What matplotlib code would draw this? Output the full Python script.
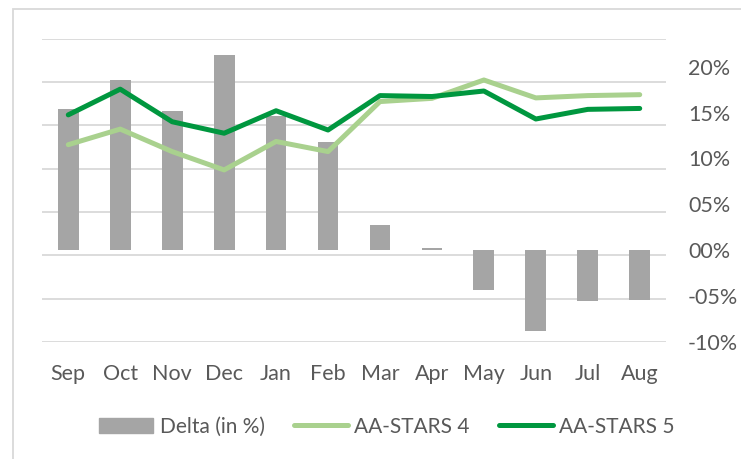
import matplotlib
matplotlib.use("Agg")
import matplotlib.pyplot as plt
from matplotlib.patches import Rectangle, Patch
from matplotlib.lines import Line2D
import numpy as np

plt.rcParams['font.family'] = ['Lato', 'DejaVu Sans']

months = ["Sep", "Oct", "Nov", "Dec", "Jan", "Feb", "Mar", "Apr", "May", "Jun", "Jul", "Aug"]
delta = [15.4, 18.55, 15.2, 21.3, 14.6, 11.8, 2.7, 0.25, -4.3, -8.8, -5.5, -5.4]
stars4 = [11.5, 13.2, 10.75, 8.75, 11.85, 10.75, 16.2, 16.55, 18.55, 16.6, 16.85, 16.95]
stars5 = [14.75, 17.55, 14.0, 12.75, 15.2, 13.1, 16.85, 16.75, 17.35, 14.3, 15.35, 15.45]
right_ticks = [-10, -5, 0, 5, 10, 15, 20]

txt = '#595959'
grid = '#D9D9D9'
fs = 15.5

fig = plt.figure(figsize=(7.41, 4.59), dpi=100)
W, H = 741, 459
ax = fig.add_axes([42.3 / W, 1 - 342 / H, (665.7 - 42.3) / W, (342 - 38.7) / H])
ax2 = ax.twinx()

# primary axis: only gridlines, labels hidden (as in the excel sheet)
ax.set_ylim(0, 35)
ax.set_yticks(np.arange(0, 36, 5))
ax.tick_params(axis='y', left=False, right=False, labelleft=False, labelright=False)
ax.grid(True, axis='y', color=grid, lw=1.3)
ax.set_axisbelow(True)
for s in ax.spines.values():
    s.set_visible(False)

x = np.arange(len(months))
ax.set_xlim(-0.5, len(months) - 0.5)
ax.set_xticks(x)
ax.set_xticklabels(months)
ax.tick_params(axis='x', length=0, pad=16, labelsize=fs, labelcolor=txt)

ax2.set_ylim(-10, 23.05)
bars = ax2.bar(x, delta, width=0.4, color='#A5A5A5', zorder=2)
l4, = ax2.plot(x, stars4, color='#A9D18E', lw=3.6, solid_capstyle='round', solid_joinstyle='round', zorder=3)
l5, = ax2.plot(x, stars5, color='#00973F', lw=3.6, solid_capstyle='round', solid_joinstyle='round', zorder=4)
ax2.set_yticks(right_ticks)
ax2.set_yticklabels([('-' if v < 0 else '') + f"{abs(v):02d}%" for v in right_ticks])
ax2.tick_params(axis='y', length=0, pad=16, labelsize=fs, labelcolor=txt)
for s in ax2.spines.values():
    s.set_visible(False)

handles = [Patch(color='#A5A5A5'),
           Line2D([], [], color='#A9D18E', lw=3.6, solid_capstyle='round'),
           Line2D([], [], color='#00973F', lw=3.6, solid_capstyle='round')]
leg = fig.legend(handles, ["Delta (in %)", "AA-STARS 4", "AA-STARS 5"], loc='center',
                 bbox_to_anchor=(387 / W, 1 - 426.7 / H), ncol=3, frameon=False,
                 fontsize=15, handlelength=2.6, handletextpad=0.3, columnspacing=1.4)
for t in leg.get_texts():
    t.set_color(txt)

# chart border (only left and top visible in the crop)
fig.patches.append(Rectangle((12.7 / W, -0.2), 1.5, 1 - 9 / H + 0.2, transform=fig.transFigure,
                             fill=False, edgecolor=grid, lw=1.3))

fig.savefig("out.png", dpi=100)
